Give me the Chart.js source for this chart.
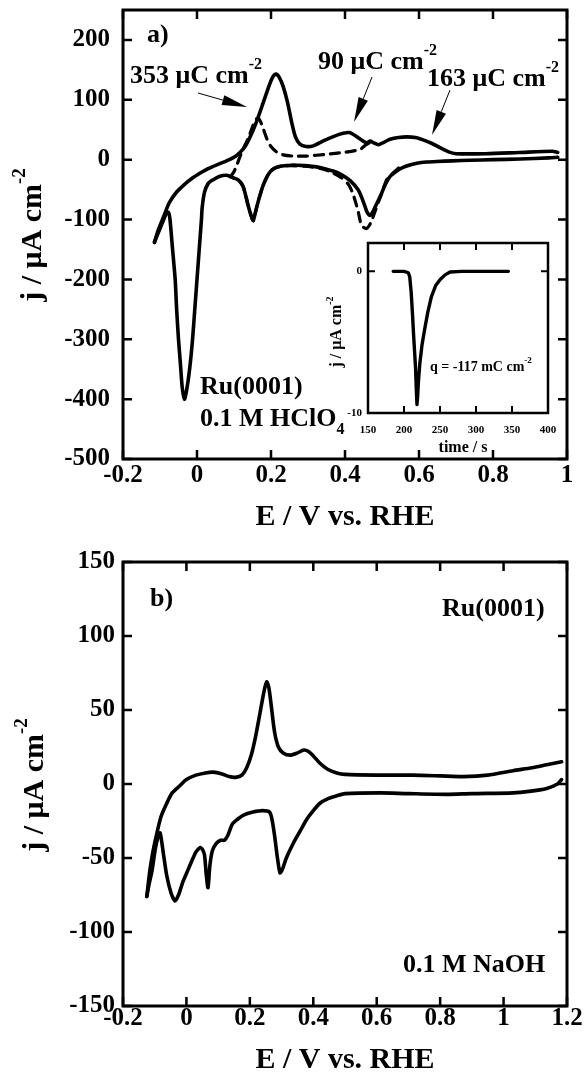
<!DOCTYPE html>
<html><head><meta charset="utf-8">
<script src="https://cdn.jsdelivr.net/npm/chart.js@4.4.0/dist/chart.umd.min.js"></script>
<style>
html,body{margin:0;padding:0;background:#fff;}
#wrap{position:relative;width:584px;height:1074px;overflow:hidden;}
canvas{position:absolute;}
</style></head><body>
<div id="wrap">
<canvas id="ca" width="584" height="540" style="left:0;top:0"></canvas>
<canvas id="cb" width="584" height="534" style="left:0;top:540px"></canvas>
<canvas id="ci" width="240" height="222" style="left:325px;top:236px"></canvas>
</div>
<script>
// ---------- Panel a data (0.1 M HClO4) ----------
const aUpE = [-0.115,-0.105,-0.09,-0.075,-0.055,-0.035,-0.015,0.01,0.03,0.06,0.08,0.10,0.116,0.13,0.145,0.16,0.175,0.19,0.203,0.213,0.222,0.233,0.245,0.256,0.266,0.278,0.295,0.314,0.34,0.37,0.395,0.414,0.43,0.449,0.46,0.468,0.478,0.49,0.505,0.522,0.545,0.567,0.59,0.611,0.635,0.657,0.68,0.70,0.78,0.87,0.96,0.975];
const aUpJ = [-138,-118,-95,-72,-54,-42,-32,-22,-15,-7,-2,4,12,22,40,62,88,115,136,143,138,122,95,62,38,26,22,23,31,39,44,45,39,31,28,31,28,25,29,34,37,38,37,33,27,20,13,10,10,12,14,12];
const aDownE = [0.975,0.95,0.873,0.80,0.738,0.69,0.648,0.62,0.594,0.575,0.557,0.54,0.522,0.51,0.499,0.487,0.476,0.468,0.46,0.454,0.445,0.435,0.414,0.39,0.368,0.345,0.323,0.29,0.26,0.242,0.225,0.21,0.198,0.188,0.178,0.170,0.162,0.156,0.152,0.147,0.138,0.13,0.124,0.112,0.097,0.08,0.06,0.045,0.03,0.02,0.014,0.012,0.006,0.0,-0.006,-0.012,-0.02,-0.028,-0.034,-0.04,-0.045,-0.05,-0.055,-0.059,-0.066,-0.073,-0.077,-0.083,-0.09,-0.1,-0.115];
const aDownJ = [4,3,1,0,-1,-2,-3,-4,-6,-9,-13,-19,-28,-40,-56,-72,-86,-93,-88,-78,-63,-50,-35,-25,-19,-15,-12,-10,-9,-10,-11,-14,-20,-30,-44,-60,-78,-93,-102,-95,-76,-56,-44,-34,-30,-26,-28,-33,-40,-55,-80,-100,-150,-200,-250,-300,-350,-385,-400,-380,-340,-300,-250,-200,-150,-100,-88,-90,-100,-115,-138];
// dashed (restricted window) sweep
const aDashUpE = [0.090,0.100,0.107,0.118,0.128,0.138,0.150,0.158,0.165,0.172,0.180,0.190,0.200,0.215,0.233,0.260,0.296,0.350,0.395,0.440,0.455,0.468];
const aDashUpJ = [-29,-20,-10,8,22,35,55,66,70,63,50,33,22,13,8,6,6,9,12,17,24,29];
const aDashDownE = [0.545,0.53,0.513,0.50,0.486,0.47,0.458,0.445,0.435,0.422,0.41,0.39,0.36,0.33,0.29,0.25,0.22,0.20,0.188,0.178,0.170,0.162,0.156,0.152,0.147,0.138,0.13,0.124,0.112,0.095];
const aDashDownJ = [-14,-22,-33,-55,-78,-105,-115,-110,-85,-58,-42,-30,-20,-14,-11,-10,-12,-18,-30,-44,-60,-78,-93,-102,-95,-76,-56,-44,-34,-30];
const aXTicks = [-0.2,0,0.2,0.4,0.6,0.8,1];
const aXLabels = ["-0.2","0","0.2","0.4","0.6","0.8","1"];
const aYTicks = [-500,-400,-300,-200,-100,0,100,200];
const aYLabels = ["-500","-400","-300","-200","-100","0","100","200"];

// ---------- Inset data (charge transient) ----------
const inT = [185,200,206,208,210,212,213,214.5,216,217,218,219,220,222,225,229,233,238,244,250,257,264,280,300,320,345];
const inJ = [0,0,-0.1,-0.4,-1.5,-3.2,-4.2,-5.5,-6.8,-8.2,-9.4,-8.8,-7.8,-6.5,-5.2,-4.0,-2.9,-1.8,-1.0,-0.6,-0.25,-0.05,0,0,0,0];
const inXTicks = [150,200,250,300,350,400];
const inXLabels = ["150","200","250","300","350","400"];
const inYTicks = [-10,0];
const inYLabels = ["-10","0"];

// ---------- Panel b data (0.1 M NaOH) ----------
const bUpE = [-0.125,-0.115,-0.105,-0.094,-0.08,-0.062,-0.045,-0.02,0.0,0.03,0.06,0.084,0.11,0.135,0.155,0.175,0.19,0.205,0.218,0.232,0.245,0.253,0.26,0.268,0.278,0.29,0.305,0.327,0.35,0.37,0.385,0.40,0.421,0.445,0.474,0.5,0.6,0.714,0.8,0.872,0.95,1.03,1.09,1.136,1.183];
const bUpJ = [-76,-58,-45,-34,-22,-13,-6,-1,3,6,7.5,8,7,5,4.5,6,11,20,32,48,63,69,65,52,35,25,21,19.5,21,23,22,19,14,10,7.5,6.5,6,6,5.5,5,6,9,11,13,15];
const bDownE = [1.183,1.17,1.136,1.08,1.03,0.9,0.82,0.7,0.61,0.5,0.474,0.445,0.421,0.40,0.379,0.358,0.337,0.315,0.302,0.295,0.287,0.278,0.27,0.262,0.24,0.21,0.18,0.16,0.145,0.13,0.12,0.108,0.095,0.082,0.074,0.068,0.062,0.057,0.05,0.043,0.03,0.021,0.005,-0.011,-0.025,-0.036,-0.048,-0.062,-0.072,-0.083,-0.09,-0.099,-0.108,-0.118,-0.125];
const bDownJ = [3,0,-3,-5,-6,-6.5,-7,-6.5,-6,-6.5,-8,-10,-13,-18,-24,-32,-40,-50,-58,-60,-50,-35,-24,-19,-18,-19,-21,-24,-27,-35,-38,-38,-40,-45,-55,-70,-60,-48,-44,-43,-46,-50,-58,-66,-75,-79,-74,-62,-48,-33,-36,-45,-58,-68,-76];
const bXTicks = [-0.2,0,0.2,0.4,0.6,0.8,1,1.2];
const bXLabels = ["-0.2","0","0.2","0.4","0.6","0.8","1","1.2"];
const bYTicks = [-150,-100,-50,0,50,100,150];
const bYLabels = ["-150","-100","-50","0","50","100","150"];

// ---------- helpers ----------
const FONT = "'Liberation Serif','Times New Roman',serif";
const pts = (xs, ys) => xs.map((x,i)=>({x, y: ys[i]}));

function drawRich(c,t){
  c.save(); c.fillStyle='#000'; c.textBaseline='middle'; c.textAlign='left';
  const sz=t.size, small=Math.round(sz*0.62);
  const fnt=s=>`bold ${s}px ${FONT}`;
  let total=0;
  const ws=t.parts.map(p=>{c.font=fnt(p[1]==='n'?sz:small); const w=c.measureText(p[0]).width; total+=w; return w;});
  c.translate(t.x,t.y); if(t.rot) c.rotate(-Math.PI/2);
  let x = t.align==='center' ? -total/2 : 0;
  t.parts.forEach((p,i)=>{
    c.font=fnt(p[1]==='n'?sz:small);
    const dy = p[1]==='sup' ? -sz*0.42 : (p[1]==='sub' ? sz*0.4 : 0);
    c.fillText(p[0],x,dy); x+=ws[i];
  });
  c.restore();
}
function drawArrow(c,a){
  const dx=a.x2-a.x1, dy=a.y2-a.y1, L=Math.hypot(dx,dy), ux=dx/L, uy=dy/L;
  const hl=a.head||25, hw=a.hw||5;
  const bx=a.x2-ux*hl, by=a.y2-uy*hl;
  c.save(); c.strokeStyle='#000'; c.fillStyle='#000'; c.lineWidth=1;
  c.beginPath(); c.moveTo(a.x1,a.y1); c.lineTo(bx,by); c.stroke();
  c.beginPath(); c.moveTo(a.x2,a.y2); c.lineTo(bx-uy*hw,by+ux*hw); c.lineTo(bx+uy*hw,by-ux*hw); c.closePath(); c.fill();
  c.restore();
}
const deco = {
  id:'deco',
  beforeDraw(chart,args,o){
    if(o.fillArea){ const a=chart.chartArea, c=chart.ctx; c.save(); c.fillStyle='#fff'; c.fillRect(a.left,a.top,a.right-a.left,a.bottom-a.top); c.restore(); }
  },
  afterDraw(chart,args,o){
    const c=chart.ctx, a=chart.chartArea, xs=chart.scales.x, ys=chart.scales.y;
    c.save(); c.strokeStyle='#000'; c.lineWidth=o.tickW; c.lineCap='butt';
    c.beginPath();
    (o.xTicks||[]).forEach(v=>{ const p=xs.getPixelForValue(v); c.moveTo(p,a.bottom); c.lineTo(p,a.bottom-o.tickLen); c.moveTo(p,a.top); c.lineTo(p,a.top+o.tickLen); });
    (o.yTicks||[]).forEach(v=>{ const p=ys.getPixelForValue(v); c.moveTo(a.left,p); c.lineTo(a.left+o.tickLen,p); c.moveTo(a.right,p); c.lineTo(a.right-o.tickLen,p); });
    c.stroke();
    c.lineWidth=o.borderW; c.strokeRect(a.left,a.top,a.right-a.left,a.bottom-a.top);
    c.restore();
    (o.texts||[]).forEach(t=>drawRich(c,t));
    (o.arrows||[]).forEach(ar=>drawArrow(c,ar));
  }
};
function scaleOpts(min,max,ticks,labels,pad,fit,size){
  return {
    type:'linear', min, max,
    grid:{display:false, drawTicks:false}, border:{display:false},
    afterBuildTicks: s => { s.ticks = ticks.map(v=>({value:v})); },
    afterFit: fit,
    ticks:{ autoSkip:false, maxRotation:0, minRotation:0, padding:pad, color:'#000',
      font:{family:FONT, weight:'bold', size, lineHeight:1},
      callback:(v,i)=>labels[i] }
  };
}
const yFit = w => s => { s.width=w; s.paddingTop=0; s.paddingBottom=0; };
const xFit = h => s => { s.height=h; s.paddingLeft=0; s.paddingRight=0; };
const line = (data, dash, w) => ({data, showLine:true, pointRadius:0, borderColor:'#000', borderWidth:w||3.6, borderDash:dash||[], tension:0.25, fill:false, borderCapStyle:'round', borderJoinStyle:'round'});
Chart.register(deco);

// ---------- Panel a ----------
new Chart(document.getElementById('ca'), {
  type:'scatter',
  data:{datasets:[
    line(pts(aUpE,aUpJ)), line(pts(aDownE,aDownJ)),
    line(pts(aDashUpE,aDashUpJ),[9,7],3.2), line(pts(aDashDownE,aDashDownJ),[9,7],3.2)
  ]},
  options:{
    responsive:false, animation:false, devicePixelRatio:1,
    layout:{padding:{left:0,top:10,right:17,bottom:0}},
    plugins:{legend:{display:false}, tooltip:{enabled:false},
      deco:{tickLen:9, tickW:2.5, borderW:3, xTicks:aXTicks, yTicks:aYTicks,
        texts:[
          {x:147,y:35,size:26,parts:[['a)','n']]},
          {x:130,y:76,size:26,parts:[['353 μC cm','n'],['-2','sup']]},
          {x:318,y:62,size:26,parts:[['90 μC cm','n'],['-2','sup']]},
          {x:427,y:79,size:26,parts:[['163 μC cm','n'],['-2','sup']]},
          {x:200,y:387,size:26,parts:[['Ru(0001)','n']]},
          {x:200,y:419,size:26,parts:[['0.1 M HClO','n'],['4','sub']]},
          {x:345,y:517,size:30,align:'center',parts:[['E / V vs. RHE','n']]},
          {x:33,y:235,size:30,rot:true,align:'center',parts:[['j / μA cm','n'],['-2','sup']]}
        ],
        arrows:[
          {x1:198,y1:93,x2:247,y2:107},
          {x1:372,y1:77,x2:354,y2:122},
          {x1:450,y1:90,x2:432,y2:135}
        ]}},
    scales:{
      x: scaleOpts(-0.2,1.0,aXTicks,aXLabels,4,xFit(81),25),
      y: scaleOpts(-500,250,aYTicks,aYLabels,13,yFit(123),25)
    }
  }
});

// ---------- Panel b ----------
new Chart(document.getElementById('cb'), {
  type:'scatter',
  data:{datasets:[ line(pts(bUpE,bUpJ)), line(pts(bDownE,bDownJ)) ]},
  options:{
    responsive:false, animation:false, devicePixelRatio:1,
    layout:{padding:{left:0,top:22,right:17,bottom:0}},
    plugins:{legend:{display:false}, tooltip:{enabled:false},
      deco:{tickLen:9, tickW:2.5, borderW:3, xTicks:bXTicks, yTicks:bYTicks,
        texts:[
          {x:150,y:59,size:26,parts:[['b)','n']]},
          {x:442,y:69,size:26,parts:[['Ru(0001)','n']]},
          {x:403,y:425,size:26,parts:[['0.1 M NaOH','n']]},
          {x:345,y:520,size:30,align:'center',parts:[['E / V vs. RHE','n']]},
          {x:35,y:245,size:30,rot:true,align:'center',parts:[['j / μA cm','n'],['-2','sup']]}
        ]}},
    scales:{
      x: scaleOpts(-0.2,1.2,bXTicks,bXLabels,0,xFit(68),25),
      y: scaleOpts(-150,150,bYTicks,bYLabels,8,yFit(123),25)
    }
  }
});

// ---------- Inset ----------
new Chart(document.getElementById('ci'), {
  type:'scatter',
  data:{datasets:[ Object.assign(line(pts(inT,inJ),[],3.4),{tension:0}) ]},
  options:{
    responsive:false, animation:false, devicePixelRatio:1,
    layout:{padding:{left:0,top:7,right:17,bottom:0}},
    plugins:{legend:{display:false}, tooltip:{enabled:false},
      deco:{fillArea:true, tickLen:7, tickW:2, borderW:2.5, xTicks:[200,250,300,350], yTicks:[0],
        texts:[
          {x:105,y:131,size:14,parts:[['q = -117 mC cm','n'],['-2','sup']]},
          {x:138,y:212,size:16,align:'center',parts:[['time / s','n']]},
          {x:12,y:96,size:16,rot:true,align:'center',parts:[['j / μA cm','n'],['-2','sup']]}
        ]}},
    scales:{
      x: scaleOpts(150,400,inXTicks,inXLabels,12,xFit(45),11),
      y: scaleOpts(-10,2,inYTicks,inYLabels,6,yFit(43),11)
    }
  }
});
</script>
</body></html>
